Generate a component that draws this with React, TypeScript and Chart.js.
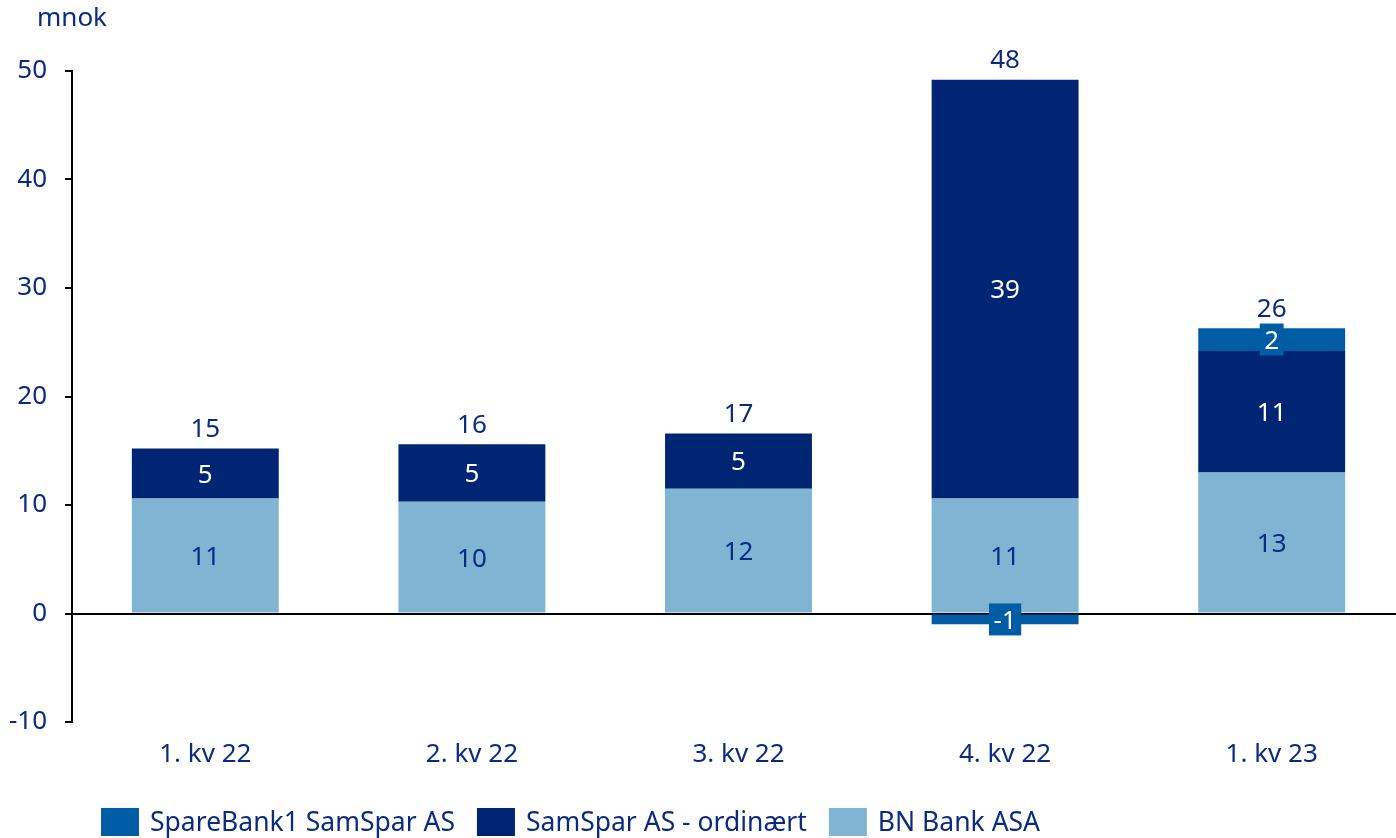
import React, { useEffect, useRef } from "react";
import { Chart, registerables } from "chart.js";

Chart.register(...registerables);

const categories = ["1. kv 22", "2. kv 22", "3. kv 22", "4. kv 22", "1. kv 23"];
const bnBank = [10.6, 10.3, 11.5, 10.6, 13.0];
const samSparOrd = [4.6, 5.3, 5.1, 38.6, 11.2];
const spareBank1 = [null, null, null, -1.0, 2.1];
const yTicks = [-10, 0, 10, 20, 30, 40, 50];
const unitLabel = "mnok";

const NAVY_TEXT = "#0b2a84";
const LIGHT = "#7fb4d3";
const DARK = "#002673";
const MEDIUM = "#005ca5";
const FONT = '"Noto Sans", sans-serif';
const FS = 26;
const LEGEND_FS = 26.5;

const labelPlugin = {
  id: "valueLabels",
  afterDatasetsDraw(chart: any) {
    const ctx = chart.ctx;
    ctx.save();
    ctx.font = `${FS}px ${FONT}`;
    ctx.textAlign = "center";
    ctx.textBaseline = "middle";
    chart.data.datasets.forEach((ds: any, di: number) => {
      const meta = chart.getDatasetMeta(di);
      meta.data.forEach((bar: any, i: number) => {
        const v = ds.data[i];
        if (v == null || v === 0) return;
        const p = bar.getProps(["x", "y", "base"], true);
        const cy = (p.y + p.base) / 2;
        const txt = String(Math.round(v));
        if (ds.labelBox) {
          const w = ctx.measureText(txt).width + 9;
          const h = 32;
          ctx.fillStyle = ds.backgroundColor;
          ctx.fillRect(p.x - w / 2, cy - h / 2, w, h);
          ctx.fillStyle = "#ffffff";
          ctx.fillText(txt, p.x, cy + 2);
        } else {
          ctx.fillStyle = ds.labelColor;
          ctx.fillText(txt, p.x, cy + 2);
        }
      });
    });
    const yScale = chart.scales.y;
    const meta0 = chart.getDatasetMeta(0);
    categories.forEach((_c, i) => {
      let total = 0;
      let pos = 0;
      chart.data.datasets.forEach((ds: any) => {
        const v = ds.data[i] ?? 0;
        total += v;
        if (v > 0) pos += v;
      });
      const x = meta0.data[i].x;
      const y = yScale.getPixelForValue(pos) - 19;
      ctx.fillStyle = NAVY_TEXT;
      ctx.fillText(String(Math.round(total)), x, y);
    });
    ctx.restore();
  },
  afterDraw(chart: any) {
    const ctx = chart.ctx;
    const area = chart.chartArea;
    ctx.save();
    ctx.font = `${FS}px ${FONT}`;
    ctx.fillStyle = NAVY_TEXT;
    ctx.textBaseline = "middle";
    ctx.textAlign = "left";
    ctx.fillText(unitLabel, area.left - 35, area.top - 52);
    // legend
    ctx.font = `${LEGEND_FS}px ${FONT}`;
    const items = [...chart.data.datasets].reverse();
    let x = area.left + 29;
    const cy = 822;
    items.forEach((ds: any) => {
      ctx.fillStyle = ds.backgroundColor;
      ctx.fillRect(x, cy - 14, 38, 28);
      ctx.fillStyle = NAVY_TEXT;
      const tx = x + 49;
      ctx.fillText(ds.label, tx, cy + 1);
      x = tx + ctx.measureText(ds.label).width + 22;
    });
    ctx.restore();
  },
};

export default function App() {
  const ref = useRef<HTMLCanvasElement>(null);
  useEffect(() => {
    if (!ref.current) return;
    const chart = new Chart(ref.current, {
      type: "bar",
      data: {
        labels: categories,
        datasets: [
          { label: "BN Bank ASA", data: bnBank, backgroundColor: LIGHT, labelColor: NAVY_TEXT } as any,
          { label: "SamSpar AS - ordinært", data: samSparOrd, backgroundColor: DARK, labelColor: "#ffffff" } as any,
          { label: "SpareBank1 SamSpar AS", data: spareBank1, backgroundColor: MEDIUM, labelBox: true } as any,
        ],
      },
      options: {
        responsive: false,
        animation: false,
        devicePixelRatio: 1,
        layout: { padding: { top: 71, bottom: 76, left: 0, right: 0 } },
        datasets: { bar: { categoryPercentage: 1, barPercentage: 0.551 } },
        plugins: { legend: { display: false }, tooltip: { enabled: false } },
        scales: {
          x: {
            stacked: true,
            grid: { display: false },
            border: { display: false },
            ticks: { color: NAVY_TEXT, font: { family: FONT, size: FS }, padding: 9 },
            afterFit: (s: any) => { s.height = 40; },
          },
          y: {
            stacked: true,
            min: -10,
            max: 50,
            afterBuildTicks: (s: any) => { s.ticks = yTicks.map((v) => ({ value: v })); },
            grid: {
              drawOnChartArea: true,
              color: (c: any) => (c.tick && c.tick.value === 0 ? "#000000" : "rgba(0,0,0,0)"),
              lineWidth: 2,
              tickColor: "#000000",
              tickLength: 7,
            },
            border: { display: true, color: "#000000", width: 2 },
            ticks: { color: NAVY_TEXT, font: { family: FONT, size: FS }, padding: 18 },
            afterFit: (s: any) => { s.width = 72; },
          },
        },
      } as any,
      plugins: [labelPlugin],
    });
    return () => chart.destroy();
  }, []);
  return (
    <div style={{ position: "absolute", left: 0, top: 0, width: 1396, height: 838, overflow: "hidden" }}>
      <canvas ref={ref} width={1405} height={838} style={{ display: "block" }} />
    </div>
  );
}
